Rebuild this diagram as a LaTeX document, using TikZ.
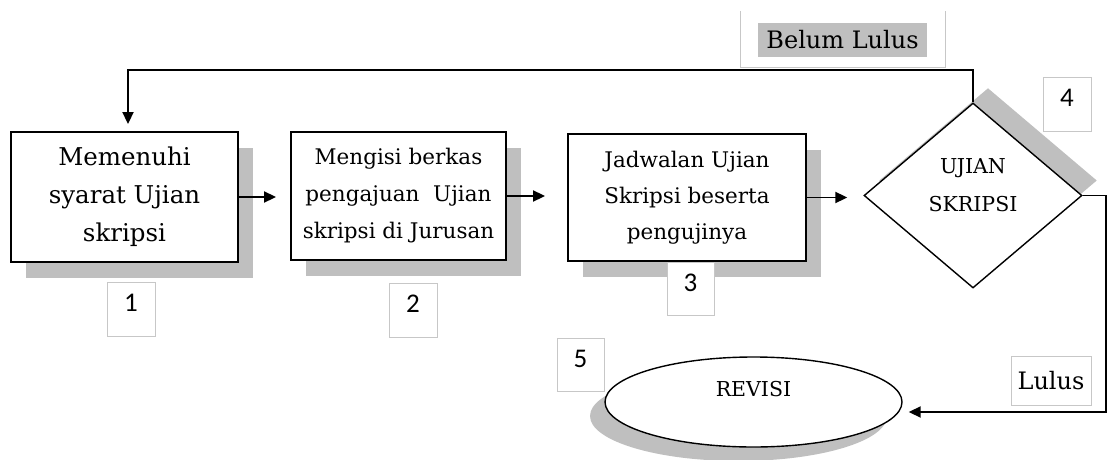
\documentclass[tikz,border=0pt]{standalone}
\usepackage{fontspec}
\setmainfont{DejaVu Serif}
\newfontfamily\digitfont{Carlito}
\usetikzlibrary{shapes.geometric,arrows.meta,shadows}
\begin{document}
\begin{tikzpicture}[x=1pt,y=-1pt,
  box/.style={draw=black, line width=1.9pt, fill=white, rectangle, align=center, inner sep=0pt,
     general shadow={fill=black!25, shadow xshift=15pt, shadow yshift=-16pt}},
  conn/.style={line width=1.9pt, -{Triangle[length=12pt,width=11pt]}},
  numbox/.style={draw=black!22, line width=0.8pt, fill=white, minimum width=48pt, minimum height=54pt,
     inner sep=0pt, font=\digitfont\fontsize{27}{27}\selectfont, text depth=12pt},
  lblframe/.style={draw=black!22, line width=0.8pt},
]
\useasboundingbox (0,0) rectangle (1110,460);

% process boxes
\node[box, minimum width=227pt, minimum height=130pt, font=\fontsize{24.5}{38}\selectfont] (b1) at (124.5,197) {Memenuhi\\syarat Ujian\\skripsi};
\node[box, minimum width=215pt, minimum height=128pt, font=\fontsize{21.5}{37}\selectfont] (b2) at (398.5,196) {Mengisi berkas\\pengajuan\ \ Ujian\\skripsi di Jurusan};
\node[box, minimum width=238pt, minimum height=127pt, font=\fontsize{21.5}{36}\selectfont] (b3) at (687,197.5) {Jadwalan Ujian\\Skripsi beserta\\pengujinya};

% decision
\node[diamond, draw=black, line width=1.4pt, fill=white, minimum width=218pt, minimum height=185pt, inner sep=0pt,
      general shadow={fill=black!25, shadow xshift=15pt, shadow yshift=15pt}] (d4) at (973,195.5) {};
\node[font=\fontsize{20.5}{38}\selectfont, align=center] (d4t) at (973,185) {UJIAN\\SKRIPSI};

% terminal
\node[ellipse, draw=black, line width=1.4pt, fill=white, minimum width=297pt, minimum height=90pt, inner sep=0pt,
      general shadow={fill=black!25, shadow xshift=-15pt, shadow yshift=-14pt}] (e5) at (753.5,402) {};
\node[font=\fontsize{20.5}{20.5}\selectfont] (e5t) at (753.5,389) {REVISI};

% number labels
\node[numbox] (n1) at (131,309) {1};
\node[numbox] (n2) at (413,310) {2};
\node[numbox, minimum width=47pt, minimum height=53pt] (n3) at (690.5,288.5) {3};
\node[numbox] (n4) at (1067,104) {4};
\node[numbox, minimum width=47pt, minimum height=53pt] (n5) at (580.5,364.5) {5};

% Belum Lulus label
\node[inner sep=0pt, minimum width=204pt, minimum height=56pt] (blf) at (843,39) {};
\draw[lblframe] (blf.north west) -- (blf.south west) -- (blf.south east) -- (blf.north east);
\node[fill=black!25, inner sep=0pt, minimum width=169pt, minimum height=34pt, font=\fontsize{24}{24}\selectfont] (bl) at (842.5,40) {Belum Lulus};

% Lulus label
\node[lblframe, fill=white, minimum width=80pt, minimum height=49pt, inner sep=0pt, font=\fontsize{24}{24}\selectfont] (ll) at (1051,380.5) {Lulus};

% connectors
\coordinate (loopy) at (0,70);
\coordinate (rx) at (1106,0);
\draw[conn, shorten >=14pt] (b1.east) -- (b1.east -| b2.west);
\draw[conn, shorten >=22pt] (b2.east) -- (b2.east -| b3.west);
\draw[conn, shorten >=16pt] (b3.east) -- (b3.east -| d4.west);
\draw[conn, shorten >=7pt] (d4.north) -- (d4.north |- loopy) -| ([xshift=3.5pt]b1.north);
\draw[conn, shorten >=6pt] (d4.east) -- (d4.east -| rx) |- ([yshift=-10pt]e5.east);
\end{tikzpicture}
\end{document}
